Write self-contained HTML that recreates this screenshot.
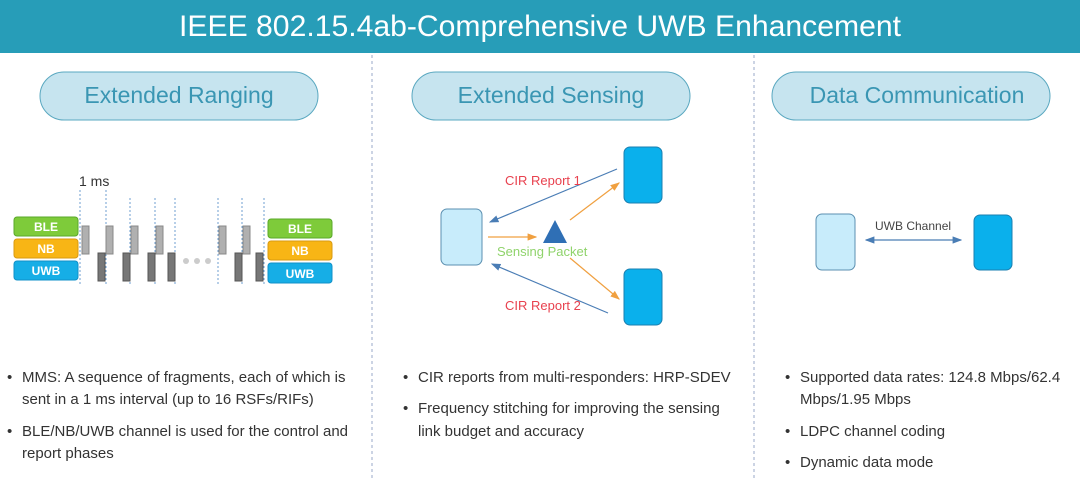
<!DOCTYPE html>
<html><head><meta charset="utf-8"><style>
body{margin:0;width:1080px;height:480px;overflow:hidden;background:#fff;font-family:"Liberation Sans",sans-serif}
</style></head><body>
<svg width="1080" height="480" xmlns="http://www.w3.org/2000/svg" font-family="Liberation Sans, sans-serif">
<defs>
<marker id="ab" markerWidth="8" markerHeight="8" refX="7" refY="4" orient="auto"><path d="M0,1 L8,4 L0,7 z" fill="#4a7db5"/></marker>
<marker id="ao" markerWidth="8" markerHeight="8" refX="7" refY="4" orient="auto"><path d="M0,1 L8,4 L0,7 z" fill="#f0a040"/></marker>
<marker id="ab2" markerWidth="8" markerHeight="8" refX="7" refY="4" orient="auto-start-reverse"><path d="M0,1 L8,4 L0,7 z" fill="#4a7db5"/></marker>
</defs>
<rect x="0" y="0" width="1080" height="53" fill="#279db8"/>
<text x="540" y="36" text-anchor="middle" font-size="30" fill="#fff" textLength="722" lengthAdjust="spacingAndGlyphs">IEEE 802.15.4ab-Comprehensive UWB Enhancement</text>
<line x1="372" y1="55" x2="372" y2="480" stroke="#9aa8c8" stroke-dasharray="3,3"/>
<line x1="754" y1="55" x2="754" y2="480" stroke="#9aa8c8" stroke-dasharray="3,3"/>
<g font-size="23" fill="#3a96b3" text-anchor="middle">
<rect x="40" y="72" width="278" height="48" rx="24" fill="#c6e4ef" stroke="#5aa8c0"/><text x="179" y="103">Extended Ranging</text>
<rect x="412" y="72" width="278" height="48" rx="24" fill="#c6e4ef" stroke="#5aa8c0"/><text x="551" y="103">Extended Sensing</text>
<rect x="772" y="72" width="278" height="48" rx="24" fill="#c6e4ef" stroke="#5aa8c0"/><text x="917" y="103">Data Communication</text>
</g>
<text x="79" y="186" font-size="14" fill="#333">1 ms</text>
<g stroke="#6f9fd0" stroke-dasharray="2,2">
<line x1="80" y1="190" x2="80" y2="286"/><line x1="106" y1="190" x2="106" y2="286"/><line x1="130" y1="198" x2="130" y2="286"/><line x1="155" y1="198" x2="155" y2="286"/><line x1="175" y1="198" x2="175" y2="286"/><line x1="218" y1="198" x2="218" y2="286"/><line x1="242" y1="198" x2="242" y2="286"/><line x1="264" y1="198" x2="264" y2="286"/>
</g>
<g fill="#b0b0b0" stroke="#888"><rect x="82" y="226" width="7" height="28"/><rect x="106" y="226" width="7" height="28"/><rect x="131" y="226" width="7" height="28"/><rect x="156" y="226" width="7" height="28"/><rect x="219" y="226" width="7" height="28"/><rect x="243" y="226" width="7" height="28"/></g>
<g fill="#777" stroke="#555"><rect x="98" y="253" width="7" height="28"/><rect x="123" y="253" width="7" height="28"/><rect x="148" y="253" width="7" height="28"/><rect x="168" y="253" width="7" height="28"/><rect x="235" y="253" width="7" height="28"/><rect x="256" y="253" width="7" height="28"/></g>
<g fill="#ccc"><circle cx="186" cy="261" r="3"/><circle cx="197" cy="261" r="3"/><circle cx="208" cy="261" r="3"/></g>
<g font-size="12" font-weight="bold" fill="#fff" text-anchor="middle">
<rect x="14" y="217" width="64" height="19" rx="3" fill="#7ecb3a" stroke="#5aa82a"/><text x="46" y="231">BLE</text>
<rect x="14" y="239" width="64" height="19" rx="3" fill="#f8b515" stroke="#d89a10"/><text x="46" y="253">NB</text>
<rect x="14" y="261" width="64" height="19" rx="3" fill="#16aee6" stroke="#1090c8"/><text x="46" y="275">UWB</text>
<rect x="268" y="219" width="64" height="19" rx="3" fill="#7ecb3a" stroke="#5aa82a"/><text x="300" y="233">BLE</text>
<rect x="268" y="241" width="64" height="19" rx="3" fill="#f8b515" stroke="#d89a10"/><text x="300" y="255">NB</text>
<rect x="268" y="263" width="64" height="20" rx="3" fill="#16aee6" stroke="#1090c8"/><text x="300" y="278">UWB</text>
</g>
<rect x="441" y="209" width="41" height="56" rx="6" fill="#c8ecfb" stroke="#5b8fb0"/>
<rect x="624" y="147" width="38" height="56" rx="6" fill="#0ab0ec" stroke="#1a7fb0"/>
<rect x="624" y="269" width="38" height="56" rx="6" fill="#0ab0ec" stroke="#1a7fb0"/>
<polygon points="555,220 543,243 567,243" fill="#2f6fb5"/>
<g stroke-width="1.2" fill="none">
<line x1="617" y1="169" x2="490" y2="222" stroke="#4a7db5" marker-end="url(#ab)"/>
<line x1="488" y1="237" x2="536" y2="237" stroke="#f0a040" marker-end="url(#ao)"/>
<line x1="570" y1="220" x2="619" y2="183" stroke="#f0a040" marker-end="url(#ao)"/>
<line x1="570" y1="258" x2="619" y2="299" stroke="#f0a040" marker-end="url(#ao)"/>
<line x1="608" y1="313" x2="492" y2="264" stroke="#4a7db5" marker-end="url(#ab)"/>
</g>
<text x="505" y="185" font-size="13" fill="#e8424f">CIR Report 1</text>
<text x="497" y="256" font-size="13" fill="#8fd36b">Sensing Packet</text>
<text x="505" y="310" font-size="13" fill="#e8424f">CIR Report 2</text>
<rect x="816" y="214" width="39" height="56" rx="6" fill="#c8ecfb" stroke="#5b8fb0"/>
<rect x="974" y="215" width="38" height="55" rx="6" fill="#0ab0ec" stroke="#1a7fb0"/>
<line x1="866" y1="240" x2="961" y2="240" stroke="#4a7db5" stroke-width="1.2" marker-start="url(#ab2)" marker-end="url(#ab2)"/>
<text x="875" y="230" font-size="12" fill="#444">UWB Channel</text>
<g font-size="15" fill="#333">
<text x="7" y="382">•</text><text x="22" y="382">MMS: A sequence of fragments, each of which is</text>
<text x="22" y="404">sent in a 1 ms interval (up to 16 RSFs/RIFs)</text>
<text x="7" y="436">•</text><text x="22" y="436">BLE/NB/UWB channel is used for the control and</text>
<text x="22" y="458">report phases</text>
<text x="403" y="382">•</text><text x="418" y="382">CIR reports from multi-responders: HRP-SDEV</text>
<text x="403" y="413">•</text><text x="418" y="413">Frequency stitching for improving the sensing</text>
<text x="418" y="436">link budget and accuracy</text>
<text x="785" y="382">•</text><text x="800" y="382">Supported data rates: 124.8 Mbps/62.4</text>
<text x="800" y="404">Mbps/1.95 Mbps</text>
<text x="785" y="436">•</text><text x="800" y="436">LDPC channel coding</text>
<text x="785" y="467">•</text><text x="800" y="467">Dynamic data mode</text>
</g>
</svg>
</body></html>
